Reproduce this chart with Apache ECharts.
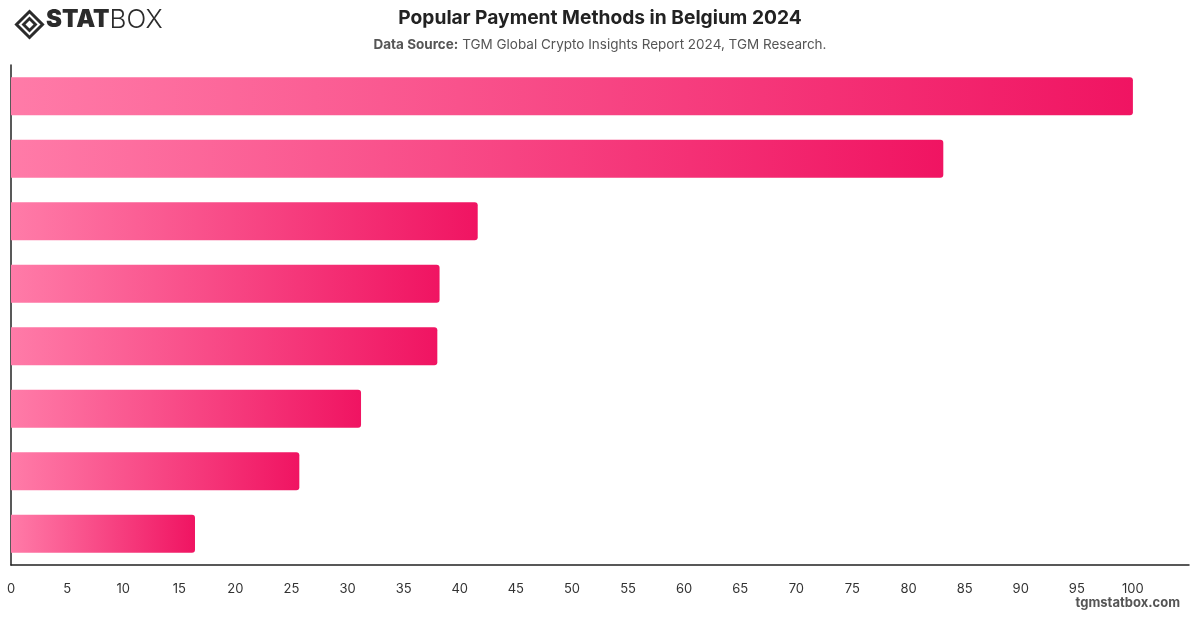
<!DOCTYPE html>
<html>
<head>
<meta charset="utf-8">
<script src="https://cdn.jsdelivr.net/npm/echarts@6/dist/echarts.min.js"></script>
<style>html,body{margin:0;padding:0;background:#fff}#c{width:1200px;height:628px}</style>
</head>
<body>
<div id="c"></div>
<script>
const categories = ["Debit Card", "Credit Card", "Bank Transfer", "Digital Wallet", "Cash", "Mobile Payment", "Buy Now Pay Later", "Cryptocurrency"];
const values = [100, 83.1, 41.6, 38.2, 38.0, 31.2, 25.7, 16.4];
const tickLabels = ["0","5","10","15","20","25","30","35","40","45","50","55","60","65","70","75","80","85","90","95","100"];

const chart = echarts.init(document.getElementById('c'), null, {renderer: 'canvas'});
const font = "Inter, 'Noto Sans', sans-serif";
chart.setOption({
  animation: false,
  backgroundColor: '#fff',
  title: {
    text: 'Popular Payment Methods in Belgium 2024',
    left: 'center', top: 4,
    textStyle: {fontFamily: font, fontSize: 19.2, fontWeight: 'bold', color: '#222'},
    subtext: '{b|Data Source:} TGM Global Crypto Insights Report 2024, TGM Research.',
    subtextStyle: {fontFamily: font, fontSize: 13.5, color: '#555',
      rich: {b: {fontFamily: font, fontSize: 13.5, fontWeight: 'bold', color: '#555'}}},
    itemGap: 10
  },
  grid: {left: 11, right: 11, top: 65, bottom: 63, containLabel: false},
  xAxis: {
    type: 'value', min: 0, max: 105, interval: 5,
    axisLine: {show: true, lineStyle: {color: '#222', width: 1.5}},
    axisTick: {show: false},
    splitLine: {show: false},
    axisLabel: {
      margin: 18, fontFamily: font, fontSize: 13, color: '#333',
      formatter: function (v) { const i = Math.round(v / 5); return i < tickLabels.length ? tickLabels[i] : ''; }
    }
  },
  yAxis: {
    type: 'category', data: categories, inverse: true,
    axisLine: {show: true, lineStyle: {color: '#222', width: 1.5}},
    axisTick: {show: false},
    axisLabel: {show: false}
  },
  series: [{
    type: 'bar',
    data: values,
    barWidth: '61%',
    itemStyle: {
      borderRadius: [0, 3, 3, 0],
      color: new echarts.graphic.LinearGradient(0, 0, 1, 0, [
        {offset: 0, color: '#FF7BA8'},
        {offset: 1, color: '#F01462'}
      ])
    }
  }],
  graphic: [
    {type: 'group', left: 14, top: 9, children: [
      {type: 'polygon', shape: {points: [[13,0],[26,13],[13,26],[0,13]]}, style: {fill: 'none', stroke: '#2b2b2b', lineWidth: 3}},
      {type: 'polygon', shape: {points: [[13,5],[21,13],[13,21],[5,13]]}, style: {fill: '#2b2b2b'}},
      {type: 'polygon', shape: {points: [[13,9],[17,13],[13,17],[9,13]]}, style: {fill: '#fff'}}
    ]},
    {type: 'text', left: 46, top: 7, style: {
      text: '{a|STAT}{b|BOX}',
      rich: {
        a: {fontFamily: "Inter, sans-serif", fontSize: 24, fontWeight: 900, fill: '#2b2b2b', lineHeight: 30},
        b: {fontFamily: "Inter, sans-serif", fontSize: 26, fontWeight: 300, fill: '#2b2b2b', lineHeight: 30}
      }
    }},
    {type: 'text', right: 20, top: 597, style: {text: 'tgmstatbox.com', font: "bold 13px " + font, fill: '#555'}}
  ]
});
</script>
</body>
</html>
